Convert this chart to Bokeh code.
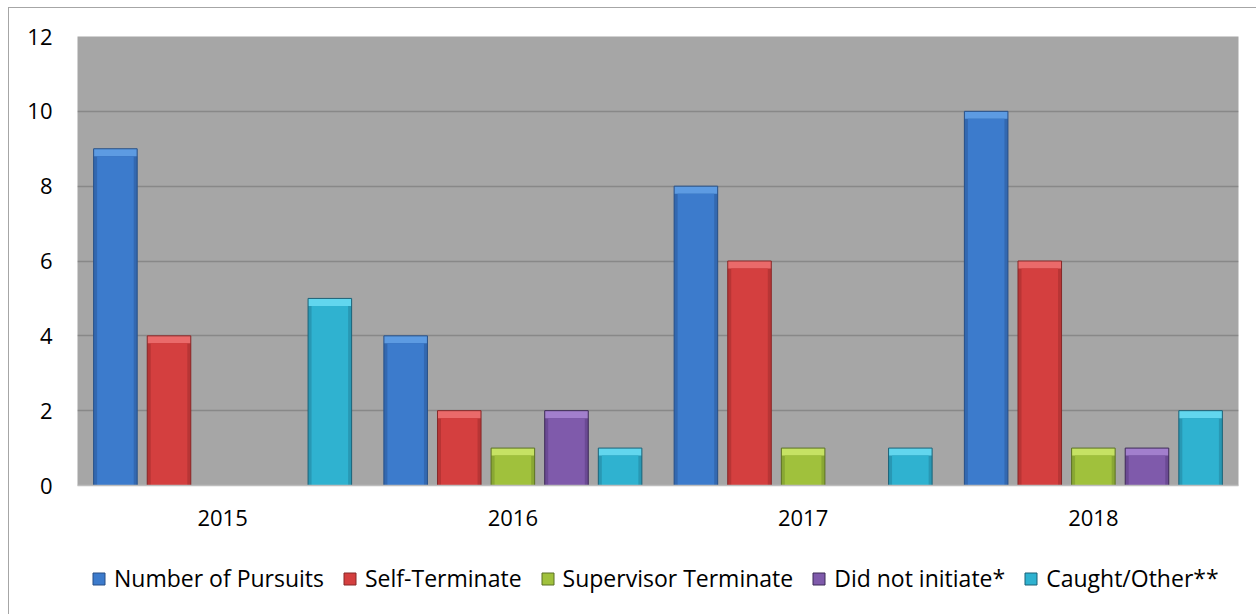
import numpy as np
from bokeh.plotting import figure
from bokeh.layouts import column
from bokeh.models import ColumnDataSource, FactorRange, Legend, LegendItem
from bokeh.transform import dodge
from bokeh.embed import file_html
from bokeh.resources import INLINE

# ---- data ----
years = ["2015", "2016", "2017", "2018"]
series_names = ["Number of Pursuits", "Self-Terminate", "Supervisor Terminate",
                "Did not initiate*", "Caught/Other**"]
pursuits = [9, 4, 8, 10]
self_terminate = [4, 2, 6, 6]
supervisor_terminate = [0, 1, 1, 1]
did_not_initiate = [0, 2, 0, 1]
caught_other = [5, 1, 1, 2]
y_ticks = [0, 2, 4, 6, 8, 10, 12]

series_values = [pursuits, self_terminate, supervisor_terminate, did_not_initiate, caught_other]

# colours: (main, highlight, side, outline)
palette = [
    ("#3c7bcc", "#5d9be2", "#3368b0", "#274f86"),
    ("#d43f3f", "#ea6a6a", "#b83535", "#862828"),
    ("#a0c13c", "#c6e264", "#89a733", "#5b7024"),
    ("#7f5aab", "#a27fcd", "#6b4a94", "#3d2a56"),
    ("#2fb2d0", "#62d6ee", "#2898b4", "#1b6176"),
]

FONT = "Open Sans"

p = figure(
    x_range=FactorRange(*years, range_padding=0),
    y_range=(0, 12),
    width=1247, height=537,
    output_backend="svg", toolbar_location=None,
    min_border_left=68, min_border_right=18, min_border_top=28, min_border_bottom=60,
)
p.background_fill_color = "#a6a6a6"
p.border_fill_color = "white"
p.outline_line_color = None

p.xgrid.grid_line_color = None
p.ygrid.grid_line_color = "#888888"
p.ygrid.grid_line_width = 1.5

p.yaxis.ticker = y_ticks
p.yaxis.axis_line_color = None
p.yaxis.major_tick_line_color = None
p.yaxis.minor_tick_line_color = None
p.yaxis.major_label_standoff = 19
p.yaxis.major_label_text_font = FONT
p.yaxis.major_label_text_font_size = "22px"
p.yaxis.major_label_text_color = "black"

p.xaxis.axis_line_color = "#bdbdbd"
p.xaxis.axis_line_width = 1.5
p.xaxis.major_tick_line_color = None
p.xaxis.minor_tick_line_color = None
p.xaxis.major_label_standoff = 18
p.xaxis.major_label_text_font = FONT
p.xaxis.major_label_text_font_size = "22px"
p.xaxis.major_label_text_color = "black"

# legend-only strip below the chart
p2 = figure(width=1247, height=69, output_backend="svg", toolbar_location=None,
            x_range=(0, 1), y_range=(0, 1),
            min_border_left=0, min_border_right=0, min_border_top=0, min_border_bottom=0)
p2.axis.visible = False
p2.grid.visible = False
p2.outline_line_color = None
p2.background_fill_color = "white"
p2.border_fill_color = "white"

step = 0.1847
bw = 0.15
inset_x = 0.012
inset_y = 0.2

items = []
for i, (name, vals, cols) in enumerate(zip(series_names, series_values, palette)):
    main, light, side, edge = cols
    v = np.array(vals, dtype=float)
    src = ColumnDataSource(dict(year=years, top=v, top_in=np.maximum(v - inset_y, 0)))
    off = (i - 2) * step
    xx = dodge("year", off, range=p.x_range)
    p.vbar(x=xx, top="top", bottom=0, width=bw, source=src,
           fill_color=light, line_color=None)
    p.vbar(x=xx, top="top_in", bottom=0, width=bw, source=src,
           fill_color=side, line_color=None)
    p.vbar(x=xx, top="top_in", bottom=0, width=bw - 2 * inset_x, source=src,
           fill_color=main, line_color=None)
    p.vbar(x=xx, top="top", bottom=0, width=bw, source=src,
           fill_color=None, line_color=edge, line_width=1)
    # legend swatch renderer in the legend strip (placed outside its visible range)
    sw = ColumnDataSource(dict(x=[-5.0], top=[0.0]))
    l2 = p2.vbar(x="x", top="top", bottom=0, width=0.1, source=sw,
                 fill_color=main, line_color=edge, line_width=1)
    items.append(LegendItem(label=name, renderers=[l2]))

legend = Legend(items=items, orientation="horizontal", location=(14, 20),
                glyph_width=15, glyph_height=15, label_standoff=8, spacing=18,
                padding=0, margin=0,
                label_text_font=FONT, label_text_font_size="23px",
                label_text_color="black",
                border_line_color=None, background_fill_alpha=0)
p2.add_layout(legend)

layout = column(p, p2, spacing=0, margin=(7, 0, 0, 8),
                styles={"border-left": "1px solid #a6a6a6", "border-top": "1px solid #a6a6a6"})

open("out.html", "w").write(file_html(layout, INLINE))
